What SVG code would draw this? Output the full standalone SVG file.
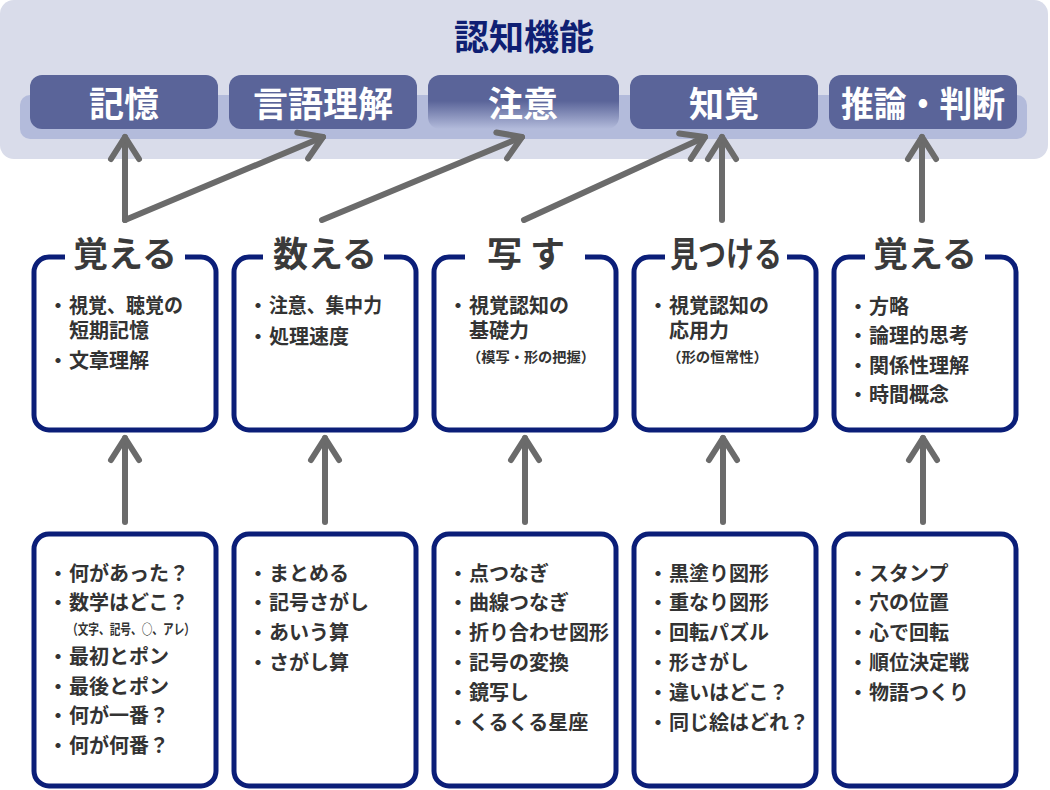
<svg xmlns="http://www.w3.org/2000/svg" width="1050" height="790" viewBox="0 0 1050 790">
<style>
text{font-family:"Noto Sans CJK JP","Noto Sans CJK SC",sans-serif;font-weight:700}
.ttl{fill:#0f1f73;font-size:35px}
.btn{fill:#5a6499}
.btxt{fill:#ffffff;font-size:35px;text-anchor:middle}
.box{fill:#ffffff;stroke:#0b1e78;stroke-width:5}
.gap{fill:#ffffff}
.bt{fill:#3a3a3a;font-size:35px;text-anchor:middle}
.it{fill:#333333;font-size:20px}
.bu{fill:#333333;font-size:20px;text-anchor:middle}
.nt{fill:#333333;font-size:14px}
.ar{fill:none;stroke:#6b6b6b;stroke-width:6;stroke-linecap:round;stroke-linejoin:round}
</style>
<defs>
<linearGradient id="fade" x1="0" y1="0" x2="0" y2="1">
<stop offset="0" stop-color="#5a6499"/>
<stop offset="0.48" stop-color="#5a6499"/>
<stop offset="1" stop-color="#b3bbdb"/>
</linearGradient>
<marker id="ah" markerUnits="userSpaceOnUse" viewBox="0 0 40 40" markerWidth="40" markerHeight="40" refX="30" refY="20" orient="auto">
<path d="M8,6 L30,20 L8,34" fill="none" stroke="#6b6b6b" stroke-width="6" stroke-linecap="round" stroke-linejoin="round"/>
</marker>
</defs>

<g id="cognitive">
<rect x="0" y="0" width="1048" height="159" rx="14" fill="#d9dcea"/>
<rect x="20" y="95" width="1007" height="44" rx="10" fill="#b3bbdb"/>
<text class="ttl" x="524" y="50" text-anchor="middle">認知機能</text>
</g>

<g id="kioku"><rect class="btn" x="30" y="75" width="188" height="54" rx="12"/><text class="btxt" x="124" y="117">記憶</text></g>
<g id="gengo"><rect class="btn" x="229" y="75" width="188" height="54" rx="12"/><text class="btxt" x="323" y="117">言語理解</text></g>
<g id="chui"><rect x="428" y="75" width="191" height="54" rx="12" fill="url(#fade)"/><text class="btxt" x="523" y="117">注意</text></g>
<g id="chikaku"><rect class="btn" x="630" y="75" width="188" height="54" rx="12"/><text class="btxt" x="724" y="117">知覚</text></g>
<g id="suiron"><rect class="btn" x="829" y="75" width="188" height="54" rx="12"/><text class="btxt" x="923" y="117" textLength="164" lengthAdjust="spacingAndGlyphs">推論・判断</text></g>

<g id="connectors">
<path class="ar" d="M125,220 V137" marker-end="url(#ah)"/>
<path class="ar" d="M125,220 L323,137" marker-end="url(#ah)"/>
<path class="ar" d="M322,220 L522,137" marker-end="url(#ah)"/>
<path class="ar" d="M524,220 L705,137" marker-end="url(#ah)"/>
<path class="ar" d="M722,220 V137" marker-end="url(#ah)"/>
<path class="ar" d="M922,220 V137" marker-end="url(#ah)"/>
<path class="ar" d="M125,522 V438" marker-end="url(#ah)"/>
<path class="ar" d="M325,522 V438" marker-end="url(#ah)"/>
<path class="ar" d="M525,522 V438" marker-end="url(#ah)"/>
<path class="ar" d="M723,522 V438" marker-end="url(#ah)"/>
<path class="ar" d="M923,522 V438" marker-end="url(#ah)"/>
</g>

<g id="oboeru1">
<rect class="box" x="34" y="257" width="182" height="173" rx="15"/>
<rect class="gap" x="65" y="248" width="120" height="16"/>
<text class="bt" x="125" y="267">覚える</text>
<text class="bu" x="58" y="313">・</text><text class="it" x="69" y="313"><tspan textLength="114" lengthAdjust="spacingAndGlyphs">視覚、聴覚の</tspan><tspan x="69" dy="25">短期記憶</tspan></text>
<text class="bu" x="58" y="368">・</text><text class="it" x="69" y="368">文章理解</text>
</g>

<g id="kazoeru">
<rect class="box" x="234" y="257" width="182" height="173" rx="15"/>
<rect class="gap" x="263" y="248" width="121" height="16"/>
<text class="bt" x="325" y="267">数える</text>
<text class="bu" x="258" y="313">・</text><text class="it" x="269" y="313" textLength="113" lengthAdjust="spacingAndGlyphs">注意、集中力</text>
<text class="bu" x="258" y="344">・</text><text class="it" x="269" y="344">処理速度</text>
</g>

<g id="utsusu">
<rect class="box" x="434" y="257" width="182" height="173" rx="15"/>
<rect class="gap" x="465" y="248" width="120" height="16"/>
<text class="bt" x="526" y="267">写 す</text>
<text class="bu" x="458" y="313">・</text><text class="it" x="469" y="313">視覚認知の<tspan x="469" dy="25">基礎力</tspan></text>
<text class="nt" x="467" y="362" textLength="128" lengthAdjust="spacingAndGlyphs">（模写・形の把握）</text>
</g>

<g id="mitsukeru">
<rect class="box" x="634" y="257" width="182" height="173" rx="15"/>
<rect class="gap" x="665" y="248" width="122" height="16"/>
<text class="bt" x="726" y="267" textLength="112" lengthAdjust="spacingAndGlyphs">見つける</text>
<text class="bu" x="658" y="313">・</text><text class="it" x="669" y="313">視覚認知の<tspan x="669" dy="25">応用力</tspan></text>
<text class="nt" x="667" y="362" textLength="101" lengthAdjust="spacingAndGlyphs">（形の恒常性）</text>
</g>

<g id="oboeru2">
<rect class="box" x="834" y="257" width="182" height="173" rx="15"/>
<rect class="gap" x="865" y="248" width="120" height="16"/>
<text class="bt" x="925" y="267">覚える</text>
<text class="bu" x="858" y="314">・</text><text class="it" x="869" y="314">方略</text>
<text class="bu" x="858" y="343">・</text><text class="it" x="869" y="343">論理的思考</text>
<text class="bu" x="858" y="373">・</text><text class="it" x="869" y="373">関係性理解</text>
<text class="bu" x="858" y="402">・</text><text class="it" x="869" y="402">時間概念</text>
</g>

<g id="games1">
<rect class="box" x="34" y="534" width="182" height="252" rx="15"/>
<text class="bu" x="58" y="581">・</text><text class="it" x="69" y="581">何があった？</text>
<text class="bu" x="58" y="610">・</text><text class="it" x="69" y="610">数学はどこ？</text>
<text class="nt" x="67" y="634" textLength="128" lengthAdjust="spacingAndGlyphs">（文字、記号、○、アレ）</text>
<text class="bu" x="58" y="664">・</text><text class="it" x="69" y="664">最初とポン</text>
<text class="bu" x="58" y="694">・</text><text class="it" x="69" y="694">最後とポン</text>
<text class="bu" x="58" y="723">・</text><text class="it" x="69" y="723">何が一番？</text>
<text class="bu" x="58" y="753">・</text><text class="it" x="69" y="753">何が何番？</text>
</g>

<g id="games2">
<rect class="box" x="234" y="534" width="182" height="252" rx="15"/>
<text class="bu" x="258" y="581">・</text><text class="it" x="269" y="581">まとめる</text>
<text class="bu" x="258" y="610">・</text><text class="it" x="269" y="610">記号さがし</text>
<text class="bu" x="258" y="640">・</text><text class="it" x="269" y="640">あいう算</text>
<text class="bu" x="258" y="670">・</text><text class="it" x="269" y="670">さがし算</text>
</g>

<g id="games3">
<rect class="box" x="434" y="534" width="182" height="252" rx="15"/>
<text class="bu" x="458" y="581">・</text><text class="it" x="469" y="581">点つなぎ</text>
<text class="bu" x="458" y="610">・</text><text class="it" x="469" y="610">曲線つなぎ</text>
<text class="bu" x="458" y="640">・</text><text class="it" x="469" y="640">折り合わせ図形</text>
<text class="bu" x="458" y="670">・</text><text class="it" x="469" y="670">記号の変換</text>
<text class="bu" x="458" y="700">・</text><text class="it" x="469" y="700">鏡写し</text>
<text class="bu" x="458" y="730">・</text><text class="it" x="469" y="730">くるくる星座</text>
</g>

<g id="games4">
<rect class="box" x="634" y="534" width="182" height="252" rx="15"/>
<text class="bu" x="658" y="581">・</text><text class="it" x="669" y="581">黒塗り図形</text>
<text class="bu" x="658" y="610">・</text><text class="it" x="669" y="610">重なり図形</text>
<text class="bu" x="658" y="640">・</text><text class="it" x="669" y="640">回転パズル</text>
<text class="bu" x="658" y="670">・</text><text class="it" x="669" y="670">形さがし</text>
<text class="bu" x="658" y="700">・</text><text class="it" x="669" y="700">違いはどこ？</text>
<text class="bu" x="658" y="730">・</text><text class="it" x="669" y="730">同じ絵はどれ？</text>
</g>

<g id="games5">
<rect class="box" x="834" y="534" width="182" height="252" rx="15"/>
<text class="bu" x="858" y="581">・</text><text class="it" x="869" y="581">スタンプ</text>
<text class="bu" x="858" y="610">・</text><text class="it" x="869" y="610">穴の位置</text>
<text class="bu" x="858" y="640">・</text><text class="it" x="869" y="640">心で回転</text>
<text class="bu" x="858" y="670">・</text><text class="it" x="869" y="670">順位決定戦</text>
<text class="bu" x="858" y="700">・</text><text class="it" x="869" y="700">物語つくり</text>
</g>
</svg>
